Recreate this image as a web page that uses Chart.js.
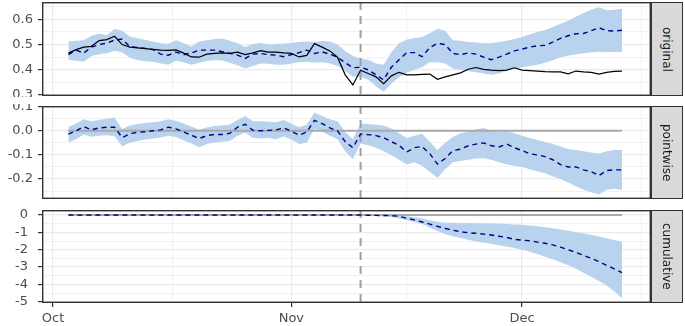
<!DOCTYPE html>
<html>
<head>
<meta charset="utf-8">
<script src="https://cdn.jsdelivr.net/npm/chart.js@4.4.0/dist/chart.umd.min.js"></script>
<style>
  html, body { margin: 0; padding: 0; background: #fff; }
  #wrap { position: relative; width: 685px; height: 326px; overflow: hidden; }
  #wrap canvas { position: absolute; left: 0; }
  .strip {
    position: absolute; left: 651px; width: 32px;
    box-sizing: border-box; border: 1px solid #333; background: #d9d9d9;
    writing-mode: vertical-rl; display: flex; align-items: center; justify-content: center;
    font: 12px 'DejaVu Sans', sans-serif; color: #1a1a1a;
  }
</style>
</head>
<body>
<div id="wrap">
  <canvas id="c-original" width="652" height="97" style="top:0px"></canvas>
  <canvas id="c-pointwise" width="652" height="97" style="top:104px"></canvas>
  <canvas id="c-cumulative" width="652" height="118" style="top:208px"></canvas>
  <div class="strip" style="top:2px;height:94px">original</div>
  <div class="strip" style="top:106px;height:93px">pointwise</div>
  <div class="strip" style="top:210px;height:93px">cumulative</div>
</div>
<script>
// days counted from Oct 1; series is daily from Oct 3 to Dec 14
const firstDay = 2;
const interventionDay = 40; // Nov 10

const xTickDays = [0, 31, 61];
const xTickLabels = ['Oct', 'Nov', 'Dec'];
const xMinorDays = [15.5, 46, 76.5];

const yTicksOriginal = [0.3, 0.4, 0.5, 0.6];
const yLabelsOriginal = ['0.3', '0.4', '0.5', '0.6'];
const yMinorOriginal = [0.35, 0.45, 0.55, 0.65];
const yTicksPointwise = [0.1, 0, -0.1, -0.2];
const yLabelsPointwise = ['0.1', '0.0', '-0.1', '-0.2'];
const yMinorPointwise = [0.05, -0.05, -0.15, -0.25];
const yTicksCumulative = [0, -1, -2, -3, -4, -5];
const yLabelsCumulative = ['0', '-1', '-2', '-3', '-4', '-5'];
const yMinorCumulative = [-0.5, -1.5, -2.5, -3.5, -4.5];

const observed = [
  0.466, 0.480, 0.490, 0.493, 0.516, 0.520, 0.533, 0.500, 0.490, 0.487,
  0.484, 0.481, 0.478, 0.477, 0.479, 0.466, 0.451, 0.450, 0.462, 0.465,
  0.467, 0.465, 0.470, 0.460, 0.467, 0.476, 0.470, 0.470, 0.467, 0.465,
  0.451, 0.457, 0.504, 0.490, 0.475, 0.450, 0.380, 0.340, 0.398, 0.385,
  0.372, 0.345, 0.376, 0.390, 0.380, 0.380, 0.382, 0.383, 0.362, 0.372,
  0.380, 0.388, 0.402, 0.409, 0.402, 0.399, 0.397, 0.399, 0.408, 0.399,
  0.397, 0.395, 0.393, 0.392, 0.392, 0.384, 0.395, 0.392, 0.390, 0.383,
  0.390, 0.394, 0.395
];
const predicted = [
  0.460, 0.478, 0.466, 0.490, 0.500, 0.506, 0.518, 0.522, 0.492, 0.488,
  0.485, 0.480, 0.462, 0.458, 0.470, 0.460, 0.467, 0.478, 0.478, 0.478,
  0.472, 0.465, 0.458, 0.445, 0.462, 0.465, 0.460, 0.458, 0.452, 0.460,
  0.468, 0.478, 0.465, 0.471, 0.462, 0.450, 0.428, 0.408,
  0.410, 0.400, 0.380, 0.360, 0.410, 0.440, 0.468, 0.468, 0.452, 0.488,
  0.505, 0.500, 0.465, 0.460, 0.467, 0.462, 0.450, 0.440, 0.450, 0.462,
  0.475, 0.482, 0.490, 0.495, 0.497, 0.510, 0.525, 0.535, 0.543, 0.544,
  0.555, 0.567, 0.555, 0.554, 0.557
];
const predUpper = [
  0.512, 0.515, 0.517, 0.535, 0.543, 0.538, 0.562, 0.555, 0.532, 0.525,
  0.518, 0.512, 0.505, 0.503, 0.517, 0.505, 0.492, 0.512, 0.517, 0.522,
  0.524, 0.515, 0.505, 0.490, 0.502, 0.506, 0.500, 0.502, 0.504, 0.506,
  0.510, 0.512, 0.510, 0.514, 0.512, 0.500, 0.475, 0.455,
  0.445, 0.440, 0.425, 0.420, 0.470, 0.505, 0.520, 0.525, 0.530, 0.545,
  0.563, 0.555, 0.517, 0.515, 0.510, 0.508, 0.505, 0.505, 0.510, 0.515,
  0.522, 0.530, 0.540, 0.550, 0.558, 0.570, 0.583, 0.595, 0.610, 0.625,
  0.638, 0.648, 0.636, 0.638, 0.642
];
const predLower = [
  0.440, 0.436, 0.432, 0.455, 0.462, 0.466, 0.476, 0.470, 0.448, 0.438,
  0.434, 0.432, 0.425, 0.420, 0.436, 0.430, 0.420, 0.428, 0.435, 0.438,
  0.437, 0.428, 0.418, 0.405, 0.415, 0.425, 0.424, 0.420, 0.420, 0.425,
  0.430, 0.432, 0.428, 0.430, 0.425, 0.415, 0.395, 0.372,
  0.372, 0.360, 0.335, 0.313, 0.345, 0.370, 0.388, 0.400, 0.410, 0.430,
  0.430, 0.425, 0.405, 0.400, 0.395, 0.390, 0.385, 0.380, 0.385, 0.395,
  0.403, 0.410, 0.415, 0.420, 0.428, 0.438, 0.450, 0.456, 0.462, 0.466,
  0.470, 0.472, 0.471, 0.471, 0.471
];

const pointwise = [
  -0.014, 0.000, 0.018, 0.004, 0.012, 0.015, 0.015, -0.028, -0.012, -0.006,
  -0.004, 0.000, 0.004, 0.015, 0.008, -0.005, -0.018, -0.032, -0.020, -0.015,
  -0.015, -0.010, 0.015, 0.027, 0.002, 0.000, 0.002, 0.004, 0.012, -0.002,
  -0.018, -0.005, 0.043, 0.030, 0.012, 0.000, -0.045, -0.070,
  -0.013, -0.016, -0.020, -0.028, -0.045, -0.060, -0.088, -0.070, -0.065, -0.095,
  -0.138, -0.115, -0.082, -0.076, -0.062, -0.055, -0.050, -0.062, -0.067, -0.055,
  -0.070, -0.082, -0.095, -0.100, -0.107, -0.120, -0.140, -0.150, -0.150, -0.162,
  -0.170, -0.186, -0.165, -0.162, -0.162
];
const pointUpper = [
  0.016, 0.030, 0.048, 0.040, 0.045, 0.050, 0.055, 0.008, 0.022, 0.028,
  0.032, 0.036, 0.040, 0.048, 0.042, 0.030, 0.018, 0.004, 0.014, 0.020,
  0.022, 0.026, 0.045, 0.062, 0.040, 0.040, 0.038, 0.036, 0.045, 0.030,
  0.015, 0.025, 0.075, 0.062, 0.048, 0.040, -0.005, -0.035,
  0.030, 0.028, 0.025, 0.022, 0.010, -0.010, -0.030, -0.020, -0.012, -0.045,
  -0.080, -0.050, -0.026, -0.010, -0.005, 0.005, 0.012, 0.000, -0.005, 0.000,
  -0.010, -0.020, -0.030, -0.038, -0.046, -0.055, -0.065, -0.075, -0.080, -0.085,
  -0.090, -0.094, -0.085, -0.080, -0.080
];
const pointLower = [
  -0.048, -0.035, -0.015, -0.025, -0.020, -0.018, -0.022, -0.065, -0.050, -0.042,
  -0.036, -0.032, -0.028, -0.020, -0.026, -0.040, -0.052, -0.068, -0.055, -0.048,
  -0.045, -0.042, -0.020, -0.008, -0.030, -0.032, -0.030, -0.035, -0.024, -0.036,
  -0.055, -0.050, 0.008, -0.004, -0.020, -0.035, -0.085, -0.118,
  -0.053, -0.060, -0.070, -0.085, -0.100, -0.120, -0.140, -0.130, -0.145, -0.170,
  -0.196, -0.160, -0.130, -0.125, -0.120, -0.115, -0.114, -0.120, -0.130, -0.140,
  -0.145, -0.150, -0.160, -0.168, -0.176, -0.190, -0.200, -0.215, -0.230, -0.245,
  -0.255, -0.264, -0.245, -0.240, -0.246
];

const cumulative = [
  0, 0, 0, 0, 0, 0, 0, 0, 0, 0, 0, 0, 0, 0, 0, 0, 0, 0, 0,
  0, 0, 0, 0, 0, 0, 0, 0, 0, 0, 0, 0, 0, 0, 0, 0, 0, 0, 0,
  0.00, -0.01, -0.02, -0.03, -0.04, -0.07, -0.19, -0.28, -0.40, -0.52,
  -0.65, -0.77, -0.88, -0.96, -1.02, -1.05, -1.10, -1.15, -1.22, -1.29,
  -1.40, -1.45, -1.48, -1.56, -1.63, -1.72, -1.85, -2.00, -2.15, -2.32,
  -2.50, -2.68, -2.90, -3.10, -3.32
];
const cumUpper = [
  0, 0, 0, 0, 0, 0, 0, 0, 0, 0, 0, 0, 0, 0, 0, 0, 0, 0, 0,
  0, 0, 0, 0, 0, 0, 0, 0, 0, 0, 0, 0, 0, 0, 0, 0, 0, 0, 0,
  0.00, 0.00, 0.00, 0.00, -0.01, -0.03, -0.07, -0.13, -0.20, -0.30,
  -0.38, -0.44, -0.45, -0.46, -0.46, -0.47, -0.47, -0.48, -0.49, -0.51,
  -0.54, -0.56, -0.60, -0.65, -0.70, -0.76, -0.83, -0.90, -0.98, -1.06,
  -1.14, -1.24, -1.34, -1.44, -1.54
];
const cumLower = [
  0, 0, 0, 0, 0, 0, 0, 0, 0, 0, 0, 0, 0, 0, 0, 0, 0, 0, 0,
  0, 0, 0, 0, 0, 0, 0, 0, 0, 0, 0, 0, 0, 0, 0, 0, 0, 0, 0,
  0.00, -0.02, -0.05, -0.08, -0.12, -0.18, -0.28, -0.40, -0.52, -0.72,
  -0.92, -1.10, -1.22, -1.33, -1.42, -1.52, -1.60, -1.66, -1.74, -1.82,
  -1.90, -2.00, -2.12, -2.25, -2.40, -2.55, -2.72, -2.90, -3.10, -3.32,
  -3.55, -3.80, -4.06, -4.40, -4.80
];

const days = observed.map((_, i) => firstDay + i);
const pts = ys => ys.map((y, i) => ({ x: days[i], y: y }));
const baseline = [{ x: days[0], y: 0 }, { x: days[days.length - 1], y: 0 }];

const FONT = { family: "'DejaVu Sans', sans-serif", size: 13 };
const TEXT = '#4d4d4d';
const GRID = '#ebebeb';
const BAND = '#b9d3ee';

// dashed vline, drawn right after the given dataset so the lines sit on top
const interventionLine = {
    id: 'interventionLine',
    afterDatasetDraw(chart, args, opts) {
        if (args.index !== opts.afterIndex) return;
        const { ctx, chartArea, scales } = chart;
        const x = scales.x.getPixelForValue(interventionDay);
        ctx.save();
        ctx.beginPath();
        ctx.rect(chartArea.left, chartArea.top, chartArea.width, chartArea.height);
        ctx.clip();
        ctx.strokeStyle = '#a0a0a0';
        ctx.lineWidth = 2;
        ctx.setLineDash([8, 6]);
        ctx.beginPath();
        ctx.moveTo(x, chartArea.top);
        ctx.lineTo(x, chartArea.bottom);
        ctx.stroke();
        ctx.restore();
    }
};

const panelBorder = {
    id: 'panelBorder',
    afterDraw(chart) {
        const { ctx, chartArea } = chart;
        ctx.save();
        ctx.strokeStyle = '#333';
        ctx.lineWidth = 1.4;
        ctx.strokeRect(chartArea.left + 0.7, chartArea.top + 0.7, chartArea.width - 1.4, chartArea.height - 1.4);
        ctx.restore();
    }
};

// keep chart areas fixed: no extra room for overhanging tick labels
function noOverhang(axis) {
    axis.paddingTop = 0;
    axis.paddingBottom = 0;
    axis.paddingLeft = 0;
    axis.paddingRight = 0;
}

function xAxis(showLabels) {
    return {
        type: 'linear',
        min: -1.43,
        max: 77.77,
        afterBuildTicks: axis => { axis.ticks = xTickDays.concat(xMinorDays).map(v => ({ value: v })); },
        afterFit: axis => { axis.height = showLabels ? 23 : 0; noOverhang(axis); },
        ticks: {
            display: showLabels, autoSkip: false, maxRotation: 0, padding: 4,
            color: TEXT, font: FONT,
            callback: (v, i) => i < xTickLabels.length ? xTickLabels[i] : ''
        },
        grid: {
            color: GRID,
            lineWidth: ctx => ctx.index < xTickDays.length ? 1.2 : 0.7,
            drawTicks: showLabels,
            tickLength: 4,
            tickWidth: 1.2,
            tickColor: ctx => ctx.index < xTickDays.length ? '#333' : 'rgba(0,0,0,0)'
        },
        border: { display: false }
    };
}

function yAxis(min, max, majors, labels, minors, pad) {
    return {
        min: min,
        max: max,
        afterBuildTicks: axis => { axis.ticks = majors.concat(minors).map(v => ({ value: v })); },
        afterFit: axis => { axis.width = 42; noOverhang(axis); },
        ticks: {
            autoSkip: false, padding: pad, color: TEXT, font: FONT,
            callback: (v, i) => i < labels.length ? labels[i] : ''
        },
        grid: {
            color: GRID,
            lineWidth: ctx => ctx.index < majors.length ? 1.2 : 0.7,
            tickLength: 4,
            tickWidth: 1.2,
            tickColor: ctx => ctx.index < majors.length ? '#333' : 'rgba(0,0,0,0)'
        },
        border: { display: false }
    };
}

function bandSets(upper, lower, lowerIndex) {
    return [
        { data: pts(upper), fill: lowerIndex, backgroundColor: BAND, borderColor: 'rgba(0,0,0,0)', borderWidth: 0, order: 2 },
        { data: pts(lower), fill: false, borderColor: 'rgba(0,0,0,0)', borderWidth: 0, order: 3 }
    ];
}

function baseOptions(padding, showX, yCfg, afterIndex) {
    return {
        responsive: false,
        animation: false,
        events: [],
        layout: { padding: padding },
        elements: { point: { radius: 0 }, line: { tension: 0 } },
        plugins: {
            legend: { display: false },
            tooltip: { enabled: false },
            interventionLine: { afterIndex: afterIndex }
        },
        scales: { x: xAxis(showX), y: yCfg }
    };
}

new Chart(document.getElementById('c-original'), {
    type: 'line',
    data: {
        datasets: [
            { data: pts(observed), borderColor: '#000', borderWidth: 1.2, fill: false, order: 0 },
            { data: pts(predicted), borderColor: '#00008b', borderWidth: 1.4, borderDash: [5, 4], fill: false, order: 1 }
        ].concat(bandSets(predUpper, predLower, 3))
    },
    options: baseOptions({ top: 2, bottom: 1, left: 0, right: 1 }, false,
        yAxis(0.296, 0.669, yTicksOriginal, yLabelsOriginal, yMinorOriginal, 5), 2),
    plugins: [interventionLine, panelBorder]
});

new Chart(document.getElementById('c-pointwise'), {
    type: 'line',
    data: {
        datasets: [
            { data: pts(pointwise), borderColor: '#00008b', borderWidth: 1.4, borderDash: [5, 4], fill: false, order: 0 },
            { data: baseline, borderColor: '#a9a9a9', borderWidth: 2, fill: false, order: 1 }
        ].concat(bandSets(pointUpper, pointLower, 3))
    },
    options: baseOptions({ top: 2, bottom: 2, left: 0, right: 1 }, false,
        yAxis(-0.283, 0.103, yTicksPointwise, yLabelsPointwise, yMinorPointwise, 5), 1),
    plugins: [interventionLine, panelBorder]
});

new Chart(document.getElementById('c-cumulative'), {
    type: 'line',
    data: {
        datasets: [
            { data: pts(cumulative), borderColor: '#00008b', borderWidth: 1.4, borderDash: [5, 4], fill: false, order: 0 },
            { data: baseline, borderColor: '#a9a9a9', borderWidth: 2, fill: false, order: 1 }
        ].concat(bandSets(cumUpper, cumLower, 3))
    },
    options: baseOptions({ top: 2, bottom: 0, left: 0, right: 1 }, true,
        yAxis(-5.07, 0.29, yTicksCumulative, yLabelsCumulative, yMinorCumulative, 10), 1),
    plugins: [interventionLine, panelBorder]
});
</script>
</body>
</html>
